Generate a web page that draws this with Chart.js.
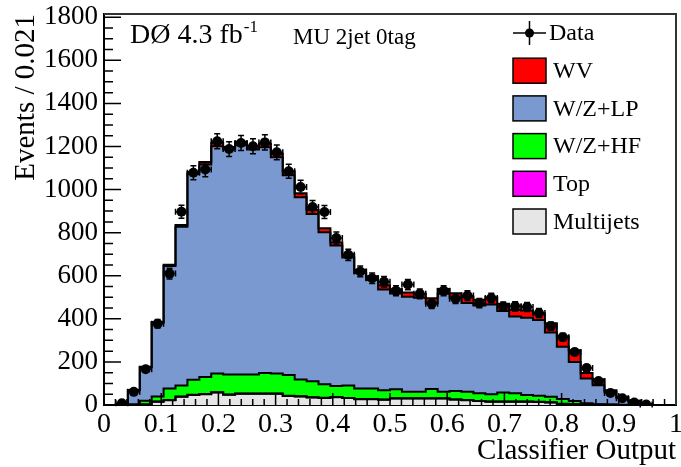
<!DOCTYPE html>
<html><head><meta charset="utf-8">
<script src="https://cdn.jsdelivr.net/npm/chart.js@4/dist/chart.umd.min.js"></script>
<style>html,body{margin:0;padding:0;background:#fff}#wrap{width:681px;height:467px}</style>
</head><body><div id="wrap"><canvas id="c" width="681" height="467"></canvas></div>
<script>
// ---- data ----
const X_MIN = 0, X_MAX = 1, N_BINS = 48;
const xTickLabels = ['0','0.1','0.2','0.3','0.4','0.5','0.6','0.7','0.8','0.9','1'];
const yTickLabels = ['0','200','400','600','800','1000','1200','1400','1600','1800'];
const seriesNames = ['Multijets','Top','W/Z+HF','W/Z+LP','WV'];
const legendLabels = ['Data','WV','W/Z+LP','W/Z+HF','Top','Multijets'];

const dataCounts = [null,8,61,166,377,610,897,1078,1093,1224,1188,1216,1201,1219,1173,1085,1012,919,896,775,697,620,588,572,530,559,516,470,530,493,508,473,497,457,458,455,427,366,315,246,172,111,56,31,12,2,null,null];
const multijets = [0,0,0,2,15,22,38,46,50,58,48,52,52,52,52,42,40,35,33,36,32,27,27,24,30,30,30,30,30,25,22,18,15,15,15,15,14,12,5,3,2,1,1,0,0,0,0,0];
const topQuark  = [0,0,0,0,1,1,1,1,1,1,1,1,1,1,1,1,1,1,1,1,1,1,1,1,1,1,1,1,1,1,1,1,1,1,1,1,1,1,1,1,0,0,0,0,0,0,0,0];
const wzHF      = [0,0,3,18,24,54,51,70,79,87,92,88,88,95,93,96,77,74,62,51,57,49,49,43,42,31,31,43,31,39,39,35,34,42,38,30,28,25,22,14,6,3,1,1,0,0,0,0];
const wzLP      = [0,3,65,155,343,568,738,955,986,1055,1045,1065,1045,1048,1004,927,846,777,706,652,595,536,503,468,445,441,436,398,454,433,412,408,416,378,357,359,351,298,242,182,115,88,58,32,17,4,0,0];
const wv        = [0,1,2,2,2,6,7,10,12,15,12,16,14,16,16,19,19,18,19,15,15,15,18,20,19,19,18,24,22,21,29,26,34,34,31,34,31,44,49,54,26,27,9,5,3,1,0,0];

const seriesColors = ['#e6e6e6','#ff00ff','#00ff00','#7a99d1','#ff0000'];
const legendColors = [null,'#ff0000','#7a99d1','#00ff00','#ff00ff','#e6e6e6'];

// ---- build library datasets ----
const components = [multijets, topQuark, wzHF, wzLP, wv];
const cumulative = [];
components.forEach((arr, k) => {
  cumulative.push(arr.map((v, i) => v + (k ? cumulative[k-1][i] : 0)));
});
const edge = j => X_MIN + (X_MAX - X_MIN) * j / N_BINS;
const center = i => X_MIN + (X_MAX - X_MIN) * (i + 0.5) / N_BINS;
const histPoints = cum => {
  const pts = [];
  for (let j = 0; j <= N_BINS; j++) pts.push({x: edge(j), y: cum[Math.min(j, N_BINS - 1)]});
  return pts;
};
const datasets = cumulative.map((cum, k) => ({
  type: 'line', label: seriesNames[k], data: histPoints(cum), stepped: 'before',
  borderColor: '#000', borderWidth: 2, backgroundColor: seriesColors[k],
  fill: k === 0 ? 'origin' : '-1', pointRadius: 0, order: 1
}));
datasets.push({
  type: 'line', label: 'Data', showLine: false, order: 0,
  data: dataCounts.map((v, i) => ({x: center(i), y: v})),
  pointRadius: 5, pointBackgroundColor: '#000', pointBorderColor: '#000', pointBorderWidth: 0
});

const SERIF = '"Liberation Serif", "Times New Roman", serif';

const decor = {
  id: 'decor',
  afterDatasetsDraw(chart) {
    const ctx = chart.ctx, xs = chart.scales.x, ys = chart.scales.y;
    const halfW = (xs.getPixelForValue(edge(1)) - xs.getPixelForValue(edge(0))) / 2;
    ctx.save();
    ctx.strokeStyle = '#000'; ctx.lineWidth = 1.5;
    dataCounts.forEach((v, i) => {
      if (v == null) return;
      const px = xs.getPixelForValue(center(i));
      const py = ys.getPixelForValue(v);
      const err = Math.sqrt(v);
      const yHi = ys.getPixelForValue(v + err), yLo = ys.getPixelForValue(Math.max(0, v - err));
      ctx.beginPath();
      ctx.moveTo(px, yHi); ctx.lineTo(px, yLo);
      ctx.moveTo(px - 3, yHi); ctx.lineTo(px + 3, yHi);
      ctx.moveTo(px - 3, yLo); ctx.lineTo(px + 3, yLo);
      ctx.moveTo(px - halfW, py); ctx.lineTo(px + halfW, py);
      ctx.moveTo(px - halfW, py - 3); ctx.lineTo(px - halfW, py + 3);
      ctx.moveTo(px + halfW, py - 3); ctx.lineTo(px + halfW, py + 3);
      ctx.stroke();
    });
    ctx.restore();
  },
  afterDraw(chart) {
    const ctx = chart.ctx, xs = chart.scales.x, ys = chart.scales.y, ca = chart.chartArea;
    ctx.save();
    // inner ticks
    ctx.strokeStyle = '#000'; ctx.lineWidth = 1.5;
    ctx.beginPath();
    for (let i = 0; i <= 50; i++) {
      const px = xs.getPixelForValue(i * 0.02);
      const len = i % 5 === 0 ? 12 : 6;
      ctx.moveTo(px, ca.bottom); ctx.lineTo(px, ca.bottom - len);
    }
    for (let i = 0; i <= 36; i++) {
      const py = ys.getPixelForValue(i * 50);
      const len = i % 4 === 0 ? 17 : 9;
      ctx.moveTo(ca.left, py); ctx.lineTo(ca.left + len, py);
    }
    ctx.stroke();
    // frame top / right
    ctx.strokeStyle = '#333'; ctx.lineWidth = 2;
    ctx.beginPath();
    ctx.moveTo(ca.left, ca.top); ctx.lineTo(ca.right, ca.top); ctx.lineTo(ca.right, ca.bottom);
    ctx.stroke();
    // annotations
    ctx.fillStyle = '#000'; ctx.textBaseline = 'alphabetic'; ctx.textAlign = 'left';
    ctx.font = '28px ' + SERIF;
    const main = 'D\u00D8 4.3 fb';
    ctx.fillText(main, 130, 43);
    const w = ctx.measureText(main).width;
    ctx.font = '17px ' + SERIF;
    ctx.fillText('-1', 130 + w + 1, 32);
    ctx.font = '23px ' + SERIF;
    ctx.fillText('MU 2jet 0tag', 293, 44);
    // legend
    const lx = 513, bw = 33, bh = 25, y0 = 33, dy = 37.7;
    ctx.font = '24px ' + SERIF; ctx.textBaseline = 'middle';
    legendLabels.forEach((lab, k) => {
      const cy = y0 + k * dy;
      if (k === 0) {
        ctx.strokeStyle = '#000'; ctx.lineWidth = 1.5;
        ctx.beginPath();
        ctx.moveTo(lx, cy); ctx.lineTo(lx + bw, cy);
        ctx.moveTo(lx + bw / 2, cy - 12); ctx.lineTo(lx + bw / 2, cy + 12);
        ctx.stroke();
        ctx.beginPath(); ctx.arc(lx + bw / 2, cy, 4.5, 0, Math.PI * 2); ctx.fillStyle = '#000'; ctx.fill();
        ctx.fillText(lab, lx + bw + 3, cy + 1);
      } else {
        ctx.fillStyle = legendColors[k];
        ctx.fillRect(lx, cy - bh / 2, bw, bh);
        ctx.strokeStyle = '#000'; ctx.lineWidth = 1.5;
        ctx.strokeRect(lx, cy - bh / 2, bw, bh);
        ctx.fillStyle = '#000';
        ctx.fillText(lab, lx + bw + 7, cy + 1);
      }
    });
    ctx.restore();
  }
};

new Chart(document.getElementById('c'), {
  type: 'line',
  data: { datasets },
  plugins: [decor],
  options: {
    responsive: false, animation: false, devicePixelRatio: 1,
    layout: { padding: { top: 14, right: 4, left: 0, bottom: 0 } },
    plugins: { legend: { display: false }, tooltip: { enabled: false },
      filler: { drawTime: 'beforeDatasetsDraw', propagate: false } },
    elements: { line: { tension: 0 } },
    scales: {
      x: {
        type: 'linear', min: X_MIN, max: X_MAX,
        grid: { display: false, drawTicks: false },
        border: { display: true, color: '#000', width: 2 },
        afterBuildTicks: s => { s.ticks = xTickLabels.map(t => ({ value: parseFloat(t) })); },
        afterFit: s => { s.height = 62; s.paddingLeft = 0; s.paddingRight = 0; },
        ticks: { autoSkip: false, maxRotation: 0, padding: 3, color: '#000',
          font: { family: SERIF, size: 28 }, callback: (v, i) => xTickLabels[i] },
        title: { display: true, text: 'Classifier Output', align: 'end', color: '#000',
          font: { family: SERIF, size: 29, lineHeight: 1 }, padding: { top: 0, bottom: 1 } }
      },
      y: {
        type: 'linear', min: 0, max: 1815,
        grid: { display: false, drawTicks: false },
        border: { display: true, color: '#000', width: 2 },
        afterBuildTicks: s => { s.ticks = yTickLabels.map(t => ({ value: parseFloat(t) })); },
        afterFit: s => { s.width = 104; s.paddingTop = 0; s.paddingBottom = 0; },
        ticks: { autoSkip: false, padding: 6, color: '#000',
          font: { family: SERIF, size: 27 }, callback: (v, i) => yTickLabels[i] },
        title: { display: true, text: 'Events / 0.021', align: 'end', color: '#000',
          font: { family: SERIF, size: 29, lineHeight: 1 }, padding: { top: 12, bottom: 0 } }
      }
    }
  }
});
</script></body></html>
